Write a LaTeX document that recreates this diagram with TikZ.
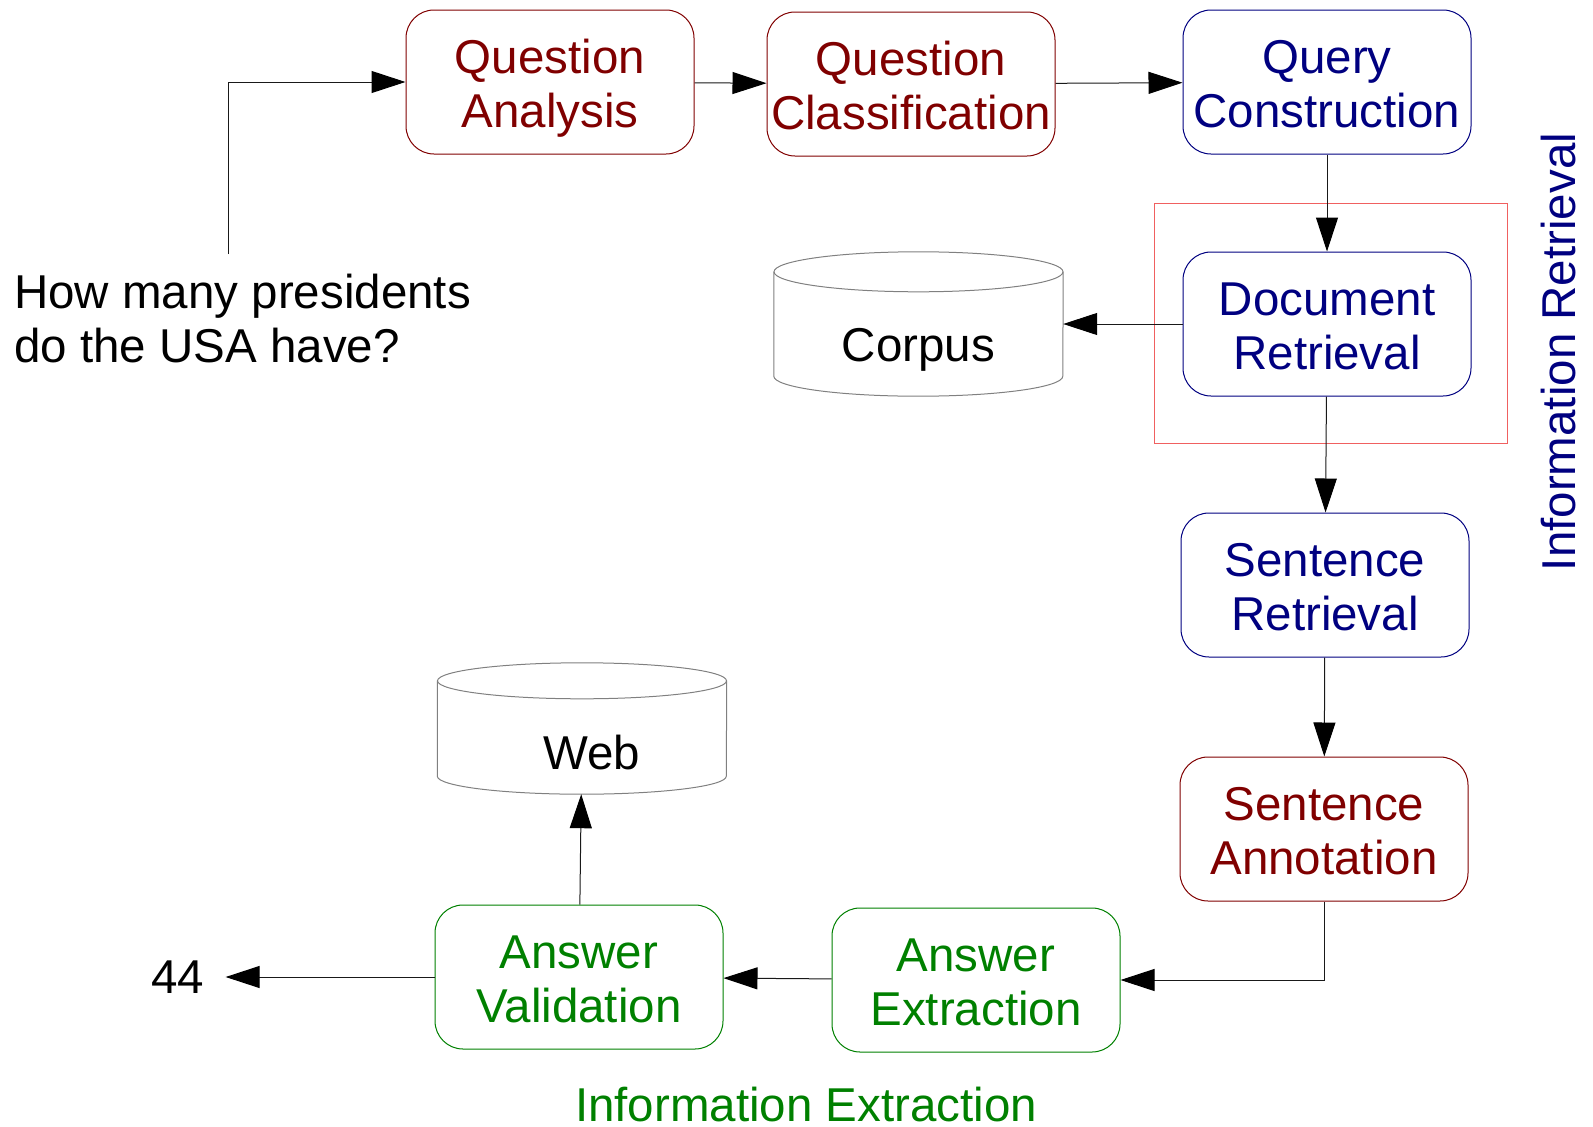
\documentclass[tikz,border=0pt]{standalone}
\usepackage{fontspec}
\setmainfont{Liberation Sans}
\usetikzlibrary{arrows.meta,calc}
\definecolor{dred}{HTML}{800000}
\definecolor{dblue}{HTML}{000080}
\definecolor{dgreen}{HTML}{008000}
\definecolor{rbox}{HTML}{F06060}
\begin{document}
\begin{tikzpicture}[x=1pt,y=-1pt,
  every node/.style={font=\fontsize{47.5}{54}\selectfont},
  box/.style={draw, line width=1pt, rounded corners=28pt, minimum width=288pt, minimum height=144pt, align=center, inner sep=0pt, text height=100pt, text depth=10pt},
  redbox/.style={box, draw=dred, text=dred},
  bluebox/.style={box, draw=dblue, text=dblue},
  greenbox/.style={box, draw=dgreen, text=dgreen},
  db/.style={minimum width=289pt, minimum height=144pt, inner sep=0pt},
  conn/.style={line width=1pt, draw=black!90, -{Triangle[length=34pt,width=22pt,color=black]}},
  cyl/.style={draw=black!50, line width=1pt},
]
\useasboundingbox (0,0) rectangle (1593,1127);

% process boxes
\node[redbox] (qa) at (550,82) {Question\\Analysis};
\node[redbox] (qc) at (911,84) {Question\\Classification};
\node[bluebox] (qcon) at (1327,82) {Query\\Construction};
\node[bluebox] (dr) at (1327,324) {Document\\Retrieval};
\node[bluebox] (sr) at (1325,585) {Sentence\\Retrieval};
\node[redbox] (sa) at (1324,829) {Sentence\\Annotation};
\node[greenbox] (ae) at (976,980) {Answer\\Extraction};
\node[greenbox] (av) at (579,977) {Answer\\Validation};

% red frame around document retrieval
\draw[rbox, line width=1pt] (1154,203) rectangle (1507,443);

% corpus cylinder
\node[db, text height=80pt, text depth=6pt] (corpus) at (918.5,324) {Corpus};
\draw[cyl] ($(corpus.north)+(0,20)$) ellipse [x radius=144.5, y radius=20];
\draw[cyl] ($(corpus.north west)+(0,20)$) -- ($(corpus.south west)+(0,-20)$)
  arc [start angle=180, end angle=0, x radius=144.5, y radius=20]
  -- ($(corpus.north east)+(0,20)$);

% web cylinder
\node[db, minimum height=131pt, text height=85pt, text depth=4pt] (web) at (582,728.5) {\hspace*{20pt}Web};
\draw[cyl] ($(web.north)+(0,18)$) ellipse [x radius=144.5, y radius=18];
\draw[cyl] ($(web.north west)+(0,18)$) -- ($(web.south west)+(0,-18)$)
  arc [start angle=180, end angle=0, x radius=144.5, y radius=18]
  -- ($(web.north east)+(0,18)$);

% texts
\node[anchor=base west, align=left, inner sep=0pt] (q) at (14,362) {How many presidents\\do the USA have?};
\coordinate (qin) at (228,254);
\node[inner xsep=21pt, inner ysep=0pt] (n44) at (178,977) {44};
\node[rotate=90, anchor=base, text=dblue, inner sep=0pt] (irl) at (1575,352) {Information Retrieval};
\node[anchor=base, text=dgreen, inner sep=0pt] (iel) at (806,1121) {Information Extraction};

% connectors
\draw[conn] (qin) |- (qa.west);
\draw[conn] (qa) -- (qc);
\draw[conn] (qc) -- (qcon);
\draw[conn] (qcon) -- (dr);
\draw[conn] (dr) -- (corpus);
\draw[conn] (dr) -- (sr);
\draw[conn] (sr) -- (sa);
\draw[conn] (sa.south) |- (ae.east);
\draw[conn] (ae) -- (av);
\draw[conn] (av) -- (web);
\draw[conn] (av) -- (n44);
\end{tikzpicture}
\end{document}
